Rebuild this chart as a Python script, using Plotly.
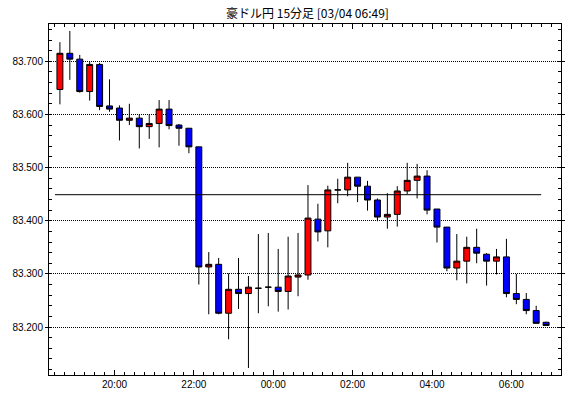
import plotly.graph_objects as go

# ---- data (15-minute candles, AUD/JPY) ----
candle_idx = list(range(50))
opens = [83.647, 83.715, 83.704, 83.643, 83.694, 83.616, 83.612, 83.589, 83.593, 83.577,
         83.583, 83.610, 83.580, 83.574, 83.539, 83.313, 83.318, 83.226, 83.271, 83.263,
         83.273, 83.275, 83.275, 83.267, 83.294, 83.298, 83.403, 83.381, 83.458, 83.458,
         83.482, 83.465, 83.439, 83.407, 83.412, 83.456, 83.476, 83.484, 83.422, 83.388,
         83.311, 83.324, 83.350, 83.337, 83.324, 83.332, 83.263, 83.252, 83.231, 83.209]
highs = [83.736, 83.757, 83.712, 83.699, 83.697, 83.666, 83.617, 83.620, 83.600, 83.600,
         83.627, 83.627, 83.582, 83.574, 83.539, 83.341, 83.330, 83.301, 83.330, 83.296,
         83.375, 83.377, 83.347, 83.370, 83.377, 83.467, 83.432, 83.466, 83.479, 83.509,
         83.482, 83.475, 83.442, 83.452, 83.465, 83.509, 83.507, 83.495, 83.422, 83.388,
         83.375, 83.370, 83.385, 83.339, 83.347, 83.366, 83.300, 83.264, 83.240, 83.210]
lows = [83.619, 83.665, 83.641, 83.626, 83.608, 83.605, 83.551, 83.580, 83.536, 83.554,
        83.538, 83.572, 83.541, 83.527, 83.280, 83.224, 83.224, 83.177, 83.234, 83.123,
        83.226, 83.239, 83.229, 83.233, 83.258, 83.289, 83.361, 83.350, 83.433, 83.446,
        83.435, 83.419, 83.399, 83.385, 83.389, 83.450, 83.442, 83.412, 83.359, 83.305,
        83.288, 83.282, 83.320, 83.278, 83.299, 83.256, 83.243, 83.224, 83.207, 83.203]
closes = [83.715, 83.704, 83.643, 83.694, 83.615, 83.610, 83.589, 83.593, 83.577, 83.583,
          83.610, 83.579, 83.574, 83.539, 83.313, 83.318, 83.226, 83.271, 83.263, 83.275,
          83.273, 83.275, 83.267, 83.296, 83.298, 83.405, 83.379, 83.458, 83.458, 83.482,
          83.465, 83.439, 83.407, 83.412, 83.456, 83.476, 83.484, 83.420, 83.388, 83.311,
          83.324, 83.350, 83.339, 83.324, 83.332, 83.263, 83.252, 83.231, 83.207, 83.203]

time_tick_pos = [5.5, 13.5, 21.5, 29.5, 37.5, 45.5]
time_tick_labels = ["20:00", "22:00", "00:00", "02:00", "04:00", "06:00"]
price_ticks = [83.2, 83.3, 83.4, 83.5, 83.6, 83.7]
price_tick_labels = ["83.200", "83.300", "83.400", "83.500", "83.600", "83.700"]
ref_level = 83.449
title_text = "豪ドル円 15分足 [03/04 06:49]"

fig = go.Figure()
fig.add_trace(go.Candlestick(
    x=candle_idx, open=opens, high=highs, low=lows, close=closes,
    increasing=dict(fillcolor="#FF0000", line=dict(color="#000000", width=1)),
    decreasing=dict(fillcolor="#0000FF", line=dict(color="#000000", width=1)),
    whiskerwidth=0, hoverinfo="skip", showlegend=False,
))

fig.add_shape(type="line", xref="x", yref="y", x0=-0.5, x1=48.5,
              y0=ref_level, y1=ref_level, line=dict(color="#000000", width=1))

tick_font = dict(family="Liberation Sans, Arial, sans-serif", size=10, color="#000000")
fig.update_layout(
    width=570, height=398,
    margin=dict(l=49, r=5, t=24, b=23),
    paper_bgcolor="#FFFFFF", plot_bgcolor="#FFFFFF",
    boxgap=0.4, boxgroupgap=0,
    title=dict(text=title_text, x=307.5 / 570, xanchor="center", y=1 - 13.5 / 398,
               yanchor="middle", yref="container",
               font=dict(family="Noto Sans CJK JP", size=12, color="#000000")),
    showlegend=False,
    hovermode=False,
    xaxis=dict(
        range=[-1.1, 50.5], rangeslider=dict(visible=False),
        tickmode="array", tickvals=time_tick_pos, ticktext=time_tick_labels,
        ticks="inside", ticklen=5, tickcolor="#000000", tickwidth=1,
        showgrid=False, zeroline=False,
        showline=True, linecolor="#000000", linewidth=1, mirror="ticks",
        tickfont=tick_font,
        minor=dict(tickmode="linear", tick0=0.5, dtick=1, ticks="inside",
                   ticklen=3, tickcolor="#000000", tickwidth=1, showgrid=False),
    ),
    yaxis=dict(
        range=[83.1098, 83.7701],
        tickmode="array", tickvals=price_ticks, ticktext=price_tick_labels,
        ticks="outside", ticklen=3, tickcolor="#000000", tickwidth=1,
        showgrid=True, gridcolor="#000000", gridwidth=1, griddash="1px,1px",
        zeroline=False,
        showline=True, linecolor="#000000", linewidth=1, mirror="ticks",
        tickfont=tick_font,
        minor=dict(tickmode="linear", tick0=83.0, dtick=0.02, ticks="inside",
                   ticklen=3, tickcolor="#000000", tickwidth=1, showgrid=False),
    ),
)

# remove the default 8px page margin so the 570x398 figure fills the window exactly
fig.write_html("out.html", config={"displayModeBar": False},
               post_script="document.body.style.margin='0';")
